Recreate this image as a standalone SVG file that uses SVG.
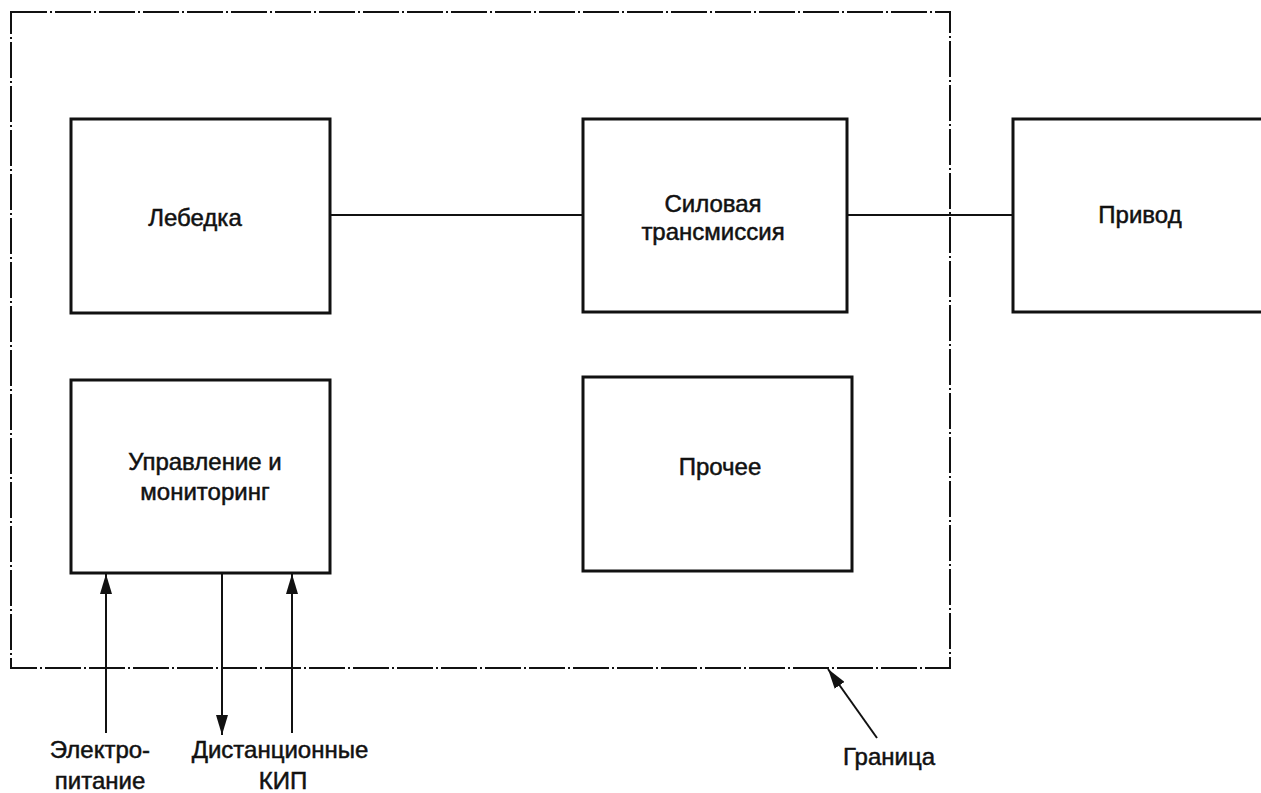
<svg xmlns="http://www.w3.org/2000/svg" width="1261" height="793" viewBox="0 0 1261 793">
<style>
.box{fill:#fff;stroke:#111;stroke-width:3}
.ln{stroke:#111;stroke-width:2;fill:none}
.bd{stroke:#111;stroke-width:2;fill:none;stroke-dasharray:36 3 2 3}
text{font-family:"Liberation Sans",Arial,sans-serif;font-size:24px;fill:#111;stroke:#111;stroke-width:0.5;text-anchor:middle}
</style>
<defs>
<marker id="ah" viewBox="0 0 20 12" refX="20" refY="6" markerWidth="20" markerHeight="12" markerUnits="userSpaceOnUse" orient="auto">
<path d="M0,0 L20,6 L0,12 Z" fill="#111"/>
</marker>
</defs>
<rect width="1261" height="793" fill="#fff"/>
<g id="boundary">
<rect class="bd" x="11" y="12" width="939" height="656"/>
</g>
<g id="connectors">
<line class="ln" x1="330" y1="215" x2="583" y2="215"/>
<line class="ln" x1="847" y1="215" x2="1013" y2="215"/>
<line class="ln" x1="106" y1="733" x2="106" y2="574" marker-end="url(#ah)"/>
<line class="ln" x1="222" y1="573" x2="222" y2="735" marker-end="url(#ah)"/>
<line class="ln" x1="292" y1="733" x2="292" y2="574" marker-end="url(#ah)"/>
<line class="ln" x1="877" y1="738" x2="828" y2="669" marker-end="url(#ah)"/>
</g>
<g id="n-lebedka">
<rect class="box" x="71" y="119" width="259" height="194"/>
<text x="195" y="226">Лебедка</text>
</g>
<g id="n-silovaya">
<rect class="box" x="583" y="119" width="264" height="193"/>
<text x="713" y="212">Силовая</text>
<text x="713" y="240">трансмиссия</text>
</g>
<g id="n-privod">
<rect class="box" x="1013" y="119" width="260" height="193"/>
<text x="1140" y="223">Привод</text>
</g>
<g id="n-upravlenie">
<rect class="box" x="71" y="380" width="259" height="193"/>
<text x="205" y="470">Управление и</text>
<text x="205" y="500">мониторинг</text>
</g>
<g id="n-prochee">
<rect class="box" x="583" y="377" width="269" height="194"/>
<text x="720" y="475">Прочее</text>
</g>
<g id="labels">
<text x="100" y="758">Электро-</text>
<text x="100" y="789">питание</text>
<text x="280" y="758">Дистанционные</text>
<text x="283" y="789">КИП</text>
<text x="889" y="765">Граница</text>
</g>
</svg>
